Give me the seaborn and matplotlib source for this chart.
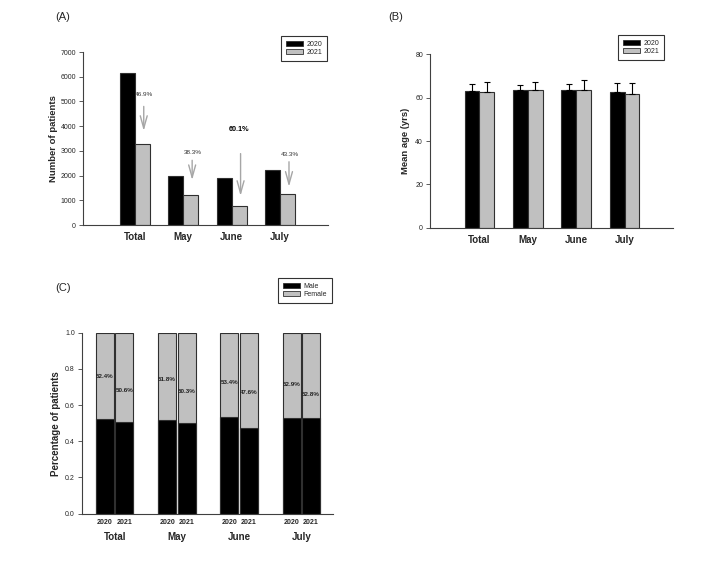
import numpy as np
import pandas as pd
import matplotlib
matplotlib.use("Agg")
import matplotlib.pyplot as plt
from matplotlib.patches import Patch
import seaborn as sns

# ---------------- data ----------------
months = ["Total", "May", "June", "July"]
years = ["2020", "2021"]

patients_2020 = [6150, 1980, 1910, 2245]
patients_2021 = [3260, 1222, 762, 1270]
reduction_labels = ["46.9%", "38.3%", "60.1%", "43.3%"]

age_2020 = [62.9, 63.4, 63.4, 62.8]
age_2021 = [62.6, 63.5, 63.4, 61.8]
age_sd_2020 = [3.4, 2.3, 2.8, 4.0]
age_sd_2021 = [4.8, 3.9, 4.6, 4.8]

male_2020 = [0.524, 0.518, 0.534, 0.529]
male_2021 = [0.506, 0.503, 0.476, 0.528]
sex_labels = ["Male", "Female"]

# annotation placements (panel A arrows / texts, panel C labels)
arrow_top = [4800, 2620, 2890, 2560]
arrow_bottom = [3810, 1820, 1180, 1550]
reduction_text_y = [5290, 2930, 3860, 2870]
label_y_2020 = [0.757, 0.742, 0.726, 0.715]
label_y_2021 = [0.680, 0.674, 0.672, 0.656]

# ---------------- style ----------------
sns.set_theme(style="ticks")
plt.rcParams["font.family"] = ["Liberation Sans", "DejaVu Sans"]

BLACK = "#000000"
GREY = "#c0c0c0"
EDGE = "#303030"
SPINE = "#404040"

fig = plt.figure(figsize=(7.05, 5.64), dpi=100)
fig.patch.set_facecolor("white")


def style_axis(ax):
    sns.despine(ax=ax)
    for s in ("left", "bottom"):
        ax.spines[s].set_color(SPINE)
        ax.spines[s].set_linewidth(0.8)
    ax.tick_params(axis="y", direction="out", length=3, width=0.6,
                   color=SPINE, labelsize=5, pad=2)
    ax.tick_params(axis="x", length=0)
    ax.set_facecolor("white")


def make_legend(handles, anchor):
    leg = fig.legend(handles=handles, loc="upper left", bbox_to_anchor=anchor,
                     frameon=True, fancybox=False, edgecolor="black",
                     fontsize=5, handlelength=2.5, handleheight=0.7,
                     borderpad=0.7, labelspacing=0.15, handletextpad=0.5,
                     borderaxespad=0)
    leg.get_frame().set_linewidth(0.8)
    return leg


# ---------------- Panel A ----------------
axA = fig.add_axes([0.1177, 0.601, 0.3475, 0.3067])
dfA = pd.DataFrame({
    "month": months * 2,
    "year": ["2020"] * 4 + ["2021"] * 4,
    "n": patients_2020 + patients_2021,
})
sns.barplot(data=dfA, x="month", y="n", hue="year", order=months,
            hue_order=years, palette=[BLACK, GREY], width=0.62,
            edgecolor=EDGE, linewidth=0.8, saturation=1, errorbar=None,
            legend=False, ax=axA)
axA.set_xlim(-1.07, 3.99)
axA.set_ylim(0, 7000)
axA.set_yticks(range(0, 7001, 1000))
axA.set_xlabel("")
axA.set_ylabel("Number of patients", fontsize=6.8, fontweight="bold", labelpad=2)
style_axis(axA)
axA.tick_params(axis="x", labelsize=7, pad=5)
for lab in axA.get_xticklabels():
    lab.set_fontweight("bold")

bars21 = axA.containers[1]
for i, bar in enumerate(bars21):
    xc = bar.get_x() + bar.get_width() / 2
    axA.annotate("", xy=(xc + 0.03, arrow_bottom[i]),
                 xytext=(xc + 0.03, arrow_top[i]),
                 arrowprops=dict(arrowstyle="->,head_length=0.9,head_width=0.25",
                                 color="#a6a6a6", lw=1.0,
                                 mutation_scale=10, shrinkA=0, shrinkB=0))
    bold = reduction_labels[i] == "60.1%"
    axA.text(xc + 0.04 if not bold else xc - 0.01, reduction_text_y[i],
             reduction_labels[i], ha="center", va="center",
             fontsize=5.2 if bold else 4.6,
             fontweight="bold" if bold else "normal",
             color="black" if bold else "#333333")

make_legend([Patch(facecolor=BLACK, edgecolor=EDGE, lw=0.6, label="2020"),
             Patch(facecolor=GREY, edgecolor=EDGE, lw=0.6, label="2021")],
            (0.3986, 0.9362))

# ---------------- Panel B ----------------
axB = fig.add_axes([0.610, 0.5963, 0.3447, 0.3073])
dfB = pd.DataFrame({
    "month": months * 2,
    "year": ["2020"] * 4 + ["2021"] * 4,
    "age": age_2020 + age_2021,
})
sns.barplot(data=dfB, x="month", y="age", hue="year", order=months,
            hue_order=years, palette=[BLACK, GREY], width=0.61,
            edgecolor=EDGE, linewidth=0.8, saturation=1, errorbar=None,
            legend=False, ax=axB)
for cont, sd in zip(axB.containers, [age_sd_2020, age_sd_2021]):
    xs = [b.get_x() + b.get_width() / 2 for b in cont]
    hs = [b.get_height() for b in cont]
    axB.errorbar(xs, hs, yerr=[np.zeros(len(sd)), sd], fmt="none",
                 ecolor="black", elinewidth=0.8, capsize=2.5, capthick=0.8)
axB.set_xlim(-1.02, 4.0)
axB.set_ylim(0, 80)
axB.set_yticks(range(0, 81, 20))
axB.set_xlabel("")
axB.set_ylabel("Mean age (yrs)", fontsize=6.8, fontweight="bold", labelpad=4)
style_axis(axB)
axB.tick_params(axis="x", labelsize=7, pad=5)
for lab in axB.get_xticklabels():
    lab.set_fontweight("bold")

make_legend([Patch(facecolor=BLACK, edgecolor=EDGE, lw=0.6, label="2020"),
             Patch(facecolor=GREY, edgecolor=EDGE, lw=0.6, label="2021")],
            (0.8766, 0.9379))

# ---------------- Panel C ----------------
axC = fig.add_axes([0.1159, 0.0892, 0.3565, 0.3209])
dfC = pd.DataFrame({
    "month": months * 2,
    "year": ["2020"] * 4 + ["2021"] * 4,
    "male": male_2020 + male_2021,
})
dfC["total"] = 1.0
sns.barplot(data=dfC, x="month", y="total", hue="year", order=months,
            hue_order=years, palette=[GREY, GREY], width=0.627, gap=0.077,
            edgecolor=EDGE, linewidth=0.8, saturation=1, errorbar=None,
            legend=False, ax=axC)
sns.barplot(data=dfC, x="month", y="male", hue="year", order=months,
            hue_order=years, palette=[BLACK, BLACK], width=0.627, gap=0.077,
            edgecolor=EDGE, linewidth=0.8, saturation=1, errorbar=None,
            legend=False, ax=axC)
axC.set_xlim(-0.53, 3.51)
axC.set_ylim(0, 1.0)
axC.set_yticks(np.arange(0, 1.01, 0.2))
axC.set_yticklabels([f"{v:.1f}" for v in np.arange(0, 1.01, 0.2)])
axC.set_xlabel("")
axC.set_ylabel("Percentage of patients", fontsize=7, fontweight="bold",
               labelpad=3)
style_axis(axC)
axC.tick_params(axis="x", labelsize=7, pad=13)
for lab in axC.get_xticklabels():
    lab.set_fontweight("bold")

male_conts = axC.containers[2:4]
for yr, cont, vals, ly in zip(years, male_conts, [male_2020, male_2021],
                              [label_y_2020, label_y_2021]):
    for bar, v, y in zip(cont, vals, ly):
        xc = bar.get_x() + bar.get_width() / 2
        axC.text(xc, y, f"{v * 100:.1f}%", ha="center", va="center",
                 fontsize=4.5, fontweight="bold", color="#222222")
        axC.text(xc, -0.046, yr, ha="center", va="center", fontsize=5,
                 fontweight="bold", clip_on=False)

make_legend([Patch(facecolor=BLACK, edgecolor=EDGE, lw=0.6, label=sex_labels[0]),
             Patch(facecolor=GREY, edgecolor=EDGE, lw=0.6, label=sex_labels[1])],
            (0.3943, 0.5071))

# ---------------- panel letters ----------------
fig.text(63 / 705, 1 - 17 / 564, "(A)", ha="center", va="center", fontsize=8)
fig.text(396 / 705, 1 - 17 / 564, "(B)", ha="center", va="center", fontsize=8)
fig.text(63 / 705, 1 - 288 / 564, "(C)", ha="center", va="center", fontsize=8)

fig.savefig("out.png", dpi=100, facecolor="white")
